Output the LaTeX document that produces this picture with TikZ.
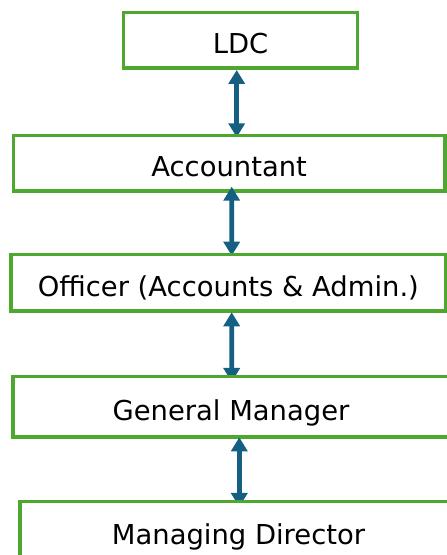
\documentclass[tikz,border=0pt]{standalone}
\usepackage{fontspec}
\setmainfont{DejaVu Sans}
\usetikzlibrary{arrows.meta}
\definecolor{boxgreen}{HTML}{4EA72E}
\definecolor{arrowblue}{HTML}{156082}
\pgfdeclarelayer{L1}\pgfdeclarelayer{L2}\pgfdeclarelayer{L3}\pgfdeclarelayer{L4}
\pgfdeclarelayer{L5}\pgfdeclarelayer{L6}\pgfdeclarelayer{L7}\pgfdeclarelayer{L8}
\pgfsetlayers{L1,L2,L3,L4,L5,L6,L7,L8,main}
\begin{document}
\begin{tikzpicture}[x=1pt,y=1pt,
  orgbox/.style={draw=boxgreen, line width=3.5pt, fill=white, inner sep=0pt, outer sep=0pt,
    font=\fontsize{27.4}{30}\selectfont, text height=32pt, text depth=5pt},
  link/.style={draw=arrowblue, line width=4.6pt, {Triangle[width=16pt,length=14pt]}-{Triangle[width=16pt,length=14pt]}}]
\useasboundingbox (0,0) rectangle (447,555);
\begin{pgfonlayer}{L1}
\node[orgbox, minimum width=234pt, minimum height=55.5pt] (ldc) at (240.5,514.75) {LDC};
\end{pgfonlayer}
\begin{pgfonlayer}{L3}
\node[orgbox, minimum width=431.7pt, minimum height=55.5pt] (acc) at (229.15,391.75) {Accountant};
\end{pgfonlayer}
\begin{pgfonlayer}{L5}
\node[orgbox, minimum width=434.7pt, minimum height=56.7pt] (off) at (228.35,272.35) {Officer (Accounts \& Admin.)};
\end{pgfonlayer}
\begin{pgfonlayer}{L7}
\node[orgbox, minimum width=435.7pt, minimum height=60.3pt] (gm) at (231,148.15) {General Manager};
\end{pgfonlayer}
\node[orgbox, minimum width=437pt, minimum height=58.3pt] (md) at (238.5,24.15) {Managing Director};
\begin{pgfonlayer}{L2}
\draw[link] ([xshift=-3.8pt,yshift=-2pt]ldc.south) -- ([xshift=7.55pt,yshift=-1.8pt]acc.north);
\end{pgfonlayer}
\begin{pgfonlayer}{L4}
\draw[link] ([xshift=2.55pt,yshift=4.3pt]acc.south) -- ([xshift=3.35pt,yshift=-1.4pt]off.north);
\end{pgfonlayer}
\begin{pgfonlayer}{L6}
\draw[link] ([xshift=3.35pt,yshift=-1.3pt]off.south) -- ([xshift=0.7pt,yshift=-5.3pt]gm.north);
\end{pgfonlayer}
\begin{pgfonlayer}{L8}
\draw[link] ([xshift=8.3pt,yshift=-0.3pt]gm.south) -- ([xshift=0.8pt,yshift=-5.3pt]md.north);
\end{pgfonlayer}
\end{tikzpicture}
\end{document}
